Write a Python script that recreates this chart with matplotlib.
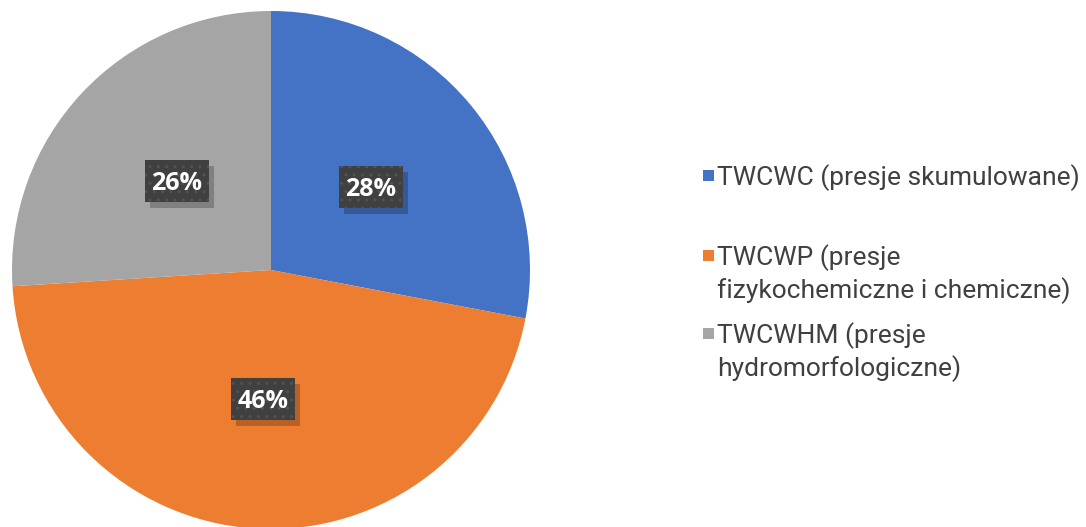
import matplotlib.pyplot as plt
import matplotlib.patheffects as pe
import matplotlib.transforms as mtransforms
from matplotlib.patches import Rectangle

# dane
kategorie = ["TWCWC (presje skumulowane)",
             "TWCWP (presje\nfizykochemiczne i chemiczne)",
             "TWCWHM (presje\nhydromorfologiczne)"]
udzialy = [28, 46, 26]
kolory = ["#4472C4", "#ED7D31", "#A5A5A5"]

plt.rcParams['hatch.linewidth'] = 1.0

W, H = 1086, 527
fig = plt.figure(figsize=(W / 100, H / 100), dpi=100)

# wykres kołowy
cx, cy, r = 271, 270, 259
ax = fig.add_axes([(cx - r) / W, (H - cy - r) / H, 2 * r / W, 2 * r / H])
wedges, texts, autotexts = ax.pie(udzialy, colors=kolory, startangle=90, counterclock=False,
                                  autopct='%d%%', pctdistance=0.5,
                                  wedgeprops=dict(edgecolor='white', linewidth=0))
ax.set_xlim(-1, 1)
ax.set_ylim(-1, 1)
ax.set_aspect('equal')
ax.axis('off')

# etykiety procentowe w ciemnych ramkach z cieniem
bw, bh = 64, 42
for t in autotexts:
    px, py = ax.transData.transform(t.get_position())
    tr = mtransforms.Affine2D().translate(px, py)
    box = Rectangle((-bw / 2, -bh / 2), bw, bh, transform=tr, fc='#404040', ec='none', zorder=3)
    box.set_path_effects([pe.SimplePatchShadow(offset=(4, -4), shadow_rgbFace='black', alpha=0.22),
                          pe.Normal()])
    kropki = Rectangle((-bw / 2, -bh / 2), bw, bh, transform=tr, fill=False, ec='#525252',
                       lw=0, hatch='..', zorder=3.5)
    fig.patches.extend([box, kropki])
    t.set_fontfamily('Open Sans')
    t.set_fontweight('bold')
    t.set_fontsize(18)
    t.set_color('white')
    t.set_va('baseline')
    t.set_transform(mtransforms.offset_copy(ax.transData, fig, x=0, y=-9, units='dots'))
    t.set_zorder(4)
    t.remove()
    fig.texts.append(t)
    t.set_figure(fig)

# legenda
wiersze_y = [176, 256, 334]
odstep = 33
for kat, kol, y in zip(kategorie, kolory, wiersze_y):
    fig.patches.append(Rectangle(((703) / W, (H - y - 5) / H), 11 / W, 11 / H,
                                 transform=fig.transFigure, fc=kol, ec='none'))
    for i, linia in enumerate(kat.split('\n')):
        fig.text(717 / W, (H - y - 9 - i * odstep) / H, linia, fontfamily='Roboto', fontsize=19,
                 color='#404040', va='baseline', ha='left')

fig.savefig('out.png', dpi=100)
